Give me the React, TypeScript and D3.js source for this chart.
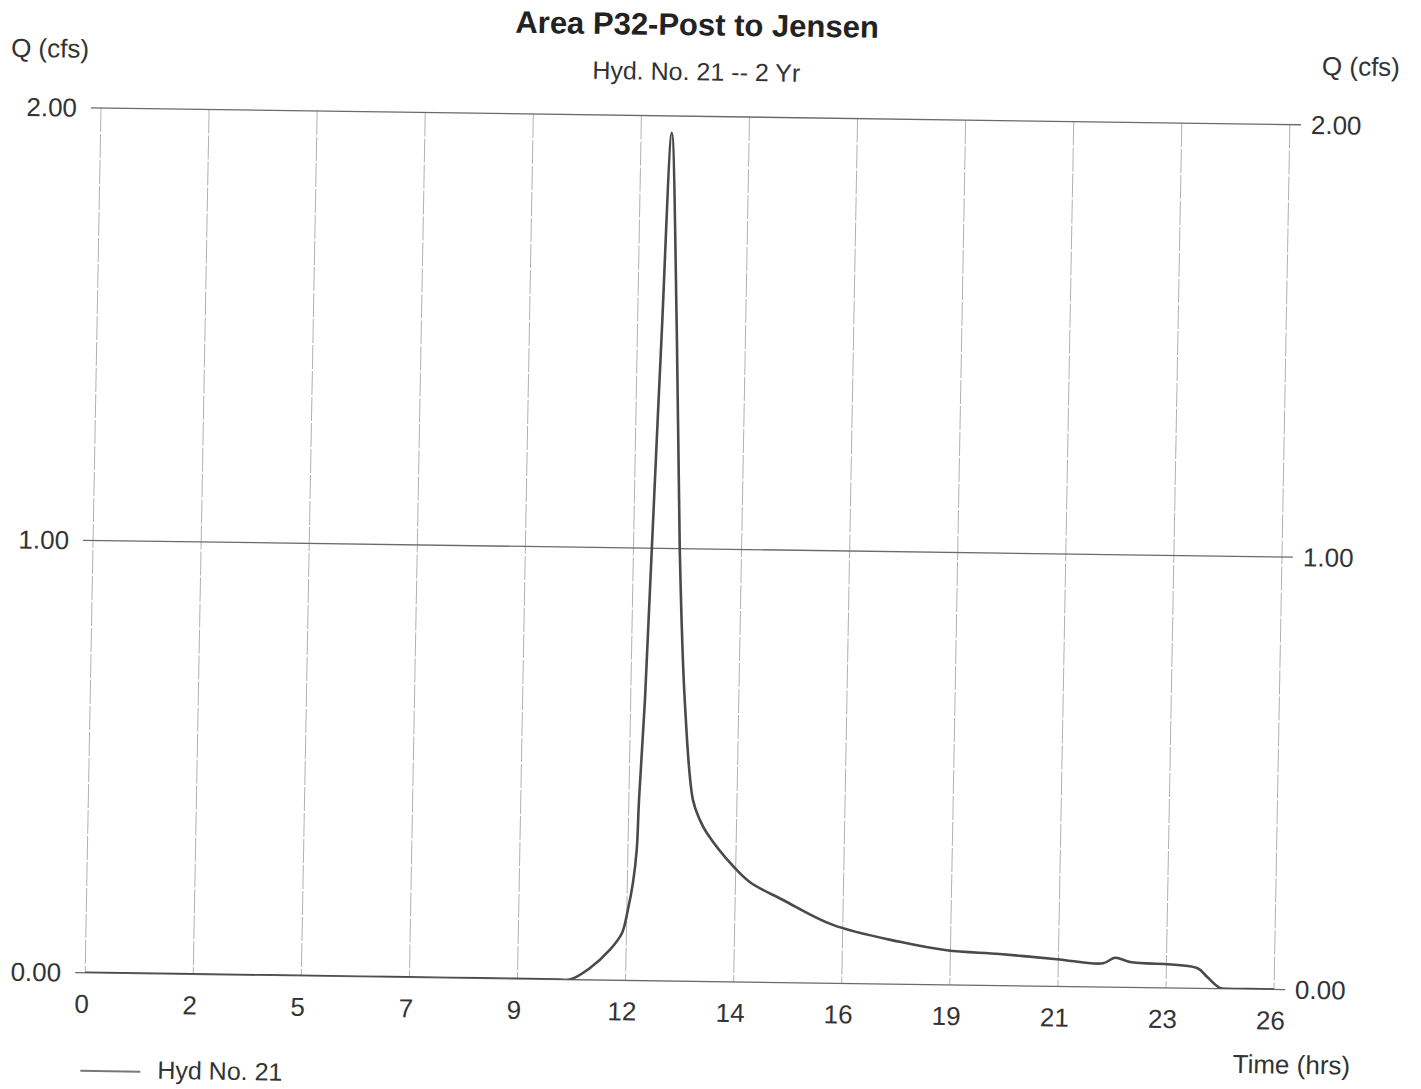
import React from "react";
import * as d3 from "d3";

// Hydrograph data (Time hrs, Q cfs)
const timeHrs = [0, 2, 4, 6, 8, 9, 10, 10.35, 10.6, 11.03, 11.46, 11.72, 11.84, 11.94, 12.01, 12.04, 12.13, 12.22, 12.35, 12.49, 12.68, 12.83, 13.0, 13.22, 13.38, 13.54, 14.12, 14.5, 15.23, 16.33, 17.8, 18.83, 19.99, 21.24, 22.25, 22.51, 22.84, 24.31, 24.53, 24.81, 25.0, 25.5, 26];
const flowCfs = [0, 0, 0, 0, 0, 0, 0, 0, 0, 0.027, 0.07, 0.109, 0.163, 0.225, 0.302, 0.417, 0.649, 1.0, 1.498, 1.961, 1.498, 1.0, 0.65, 0.419, 0.373, 0.343, 0.268, 0.231, 0.191, 0.135, 0.098, 0.08, 0.073, 0.063, 0.055, 0.068, 0.059, 0.047, 0.027, 0.002, 0, 0, 0];

const xTickLabels = ["0", "2", "5", "7", "9", "12", "14", "16", "19", "21", "23", "26"];
const yTicks = [0, 1, 2];

const title = "Area P32-Post to Jensen";
const subtitle = "Hyd. No. 21 -- 2 Yr";
const yLabel = "Q (cfs)";
const xLabel = "Time (hrs)";
const legendLabel = "Hyd No. 21";

export default function App() {
  const W = 1189;
  const H = 865;
  const x = d3.scaleLinear().domain([0, 26]).range([0, W]);
  const y = d3.scaleLinear().domain([0, 2]).range([H, 0]);
  const pts: [number, number][] = timeHrs.map((t, i) => [t, flowCfs[i]]);
  const line = d3
    .line<[number, number]>()
    .x((d) => x(d[0]))
    .y((d) => y(d[1]))
    .curve(d3.curveCatmullRom.alpha(0.5));

  const a = Math.cos((0.8 * Math.PI) / 180);
  const b = Math.sin((0.8 * Math.PI) / 180);
  const c = -Math.sin((1.05 * Math.PI) / 180);
  const dd = Math.cos((1.05 * Math.PI) / 180);
  const font = "'Liberation Sans', Arial, sans-serif";
  const txt = "#333";
  const step = 26 / (xTickLabels.length - 1);

  return (
    <svg
      width={1421}
      height={1089}
      style={{ position: "absolute", left: 0, top: 0, display: "block", background: "#fff" }}
      fontFamily={font}
    >
      <defs>
        <clipPath id="plotClip">
          <rect x={-5} y={-5} width={W + 10} height={H + 5} />
        </clipPath>
      </defs>
      <g transform={`matrix(${a},${b},${c},${dd},101,108)`}>
        {/* vertical grid */}
        {xTickLabels.map((_, i) => (
          <line
            key={"vg" + i}
            x1={x(i * step)}
            x2={x(i * step)}
            y1={0}
            y2={H}
            stroke="#b0b0b0"
            strokeWidth={1}
            strokeDasharray="24 2"
          />
        ))}
        {/* horizontal grid */}
        {yTicks.map((v) => (
          <line
            key={"hg" + v}
            x1={-10}
            x2={W + 11}
            y1={y(v)}
            y2={y(v)}
            stroke="#6a6a6a"
            strokeWidth={1.3}
          />
        ))}
        {/* curve */}
        <path
          d={line(pts) || ""}
          fill="none"
          stroke="#4a4a4a"
          strokeWidth={2.6}
          strokeLinejoin="round"
          clipPath="url(#plotClip)"
        />
        {/* left y labels */}
        {yTicks.map((v) => (
          <text key={"yl" + v} x={-24} y={y(v) + 9} textAnchor="end" fontSize={26} fill={txt}>
            {d3.format(".2f")(v)}
          </text>
        ))}
        {/* right y labels */}
        {yTicks.map((v) => (
          <text key={"yr" + v} x={W + 21} y={y(v) + 9} textAnchor="start" fontSize={26} fill={txt}>
            {d3.format(".2f")(v)}
          </text>
        ))}
        {/* x labels */}
        {xTickLabels.map((l, i) => (
          <text key={"xl" + i} x={x(i * step) - 3} y={H + 40} textAnchor="middle" fontSize={26} fill={txt}>
            {l}
          </text>
        ))}
        <text x={-91} y={-50} fontSize={26} fill={txt}>{yLabel}</text>
        <text x={W + 31} y={-50} fontSize={26} fill={txt}>{yLabel}</text>
        <text x={W / 2} y={-81} textAnchor="middle" fontSize={31} fontWeight="bold" fill="#222">{title}</text>
        <text x={W / 2} y={-36} textAnchor="middle" fontSize={25} fill={txt}>{subtitle}</text>
        <text x={1149} y={949} fontSize={26} fill={txt}>{xLabel}</text>
        {/* legend */}
        <line x1={-3} x2={57} y1={963} y2={963} stroke="#777" strokeWidth={2} />
        <text x={74} y={970} fontSize={25} fill={txt}>{legendLabel}</text>
      </g>
    </svg>
  );
}
